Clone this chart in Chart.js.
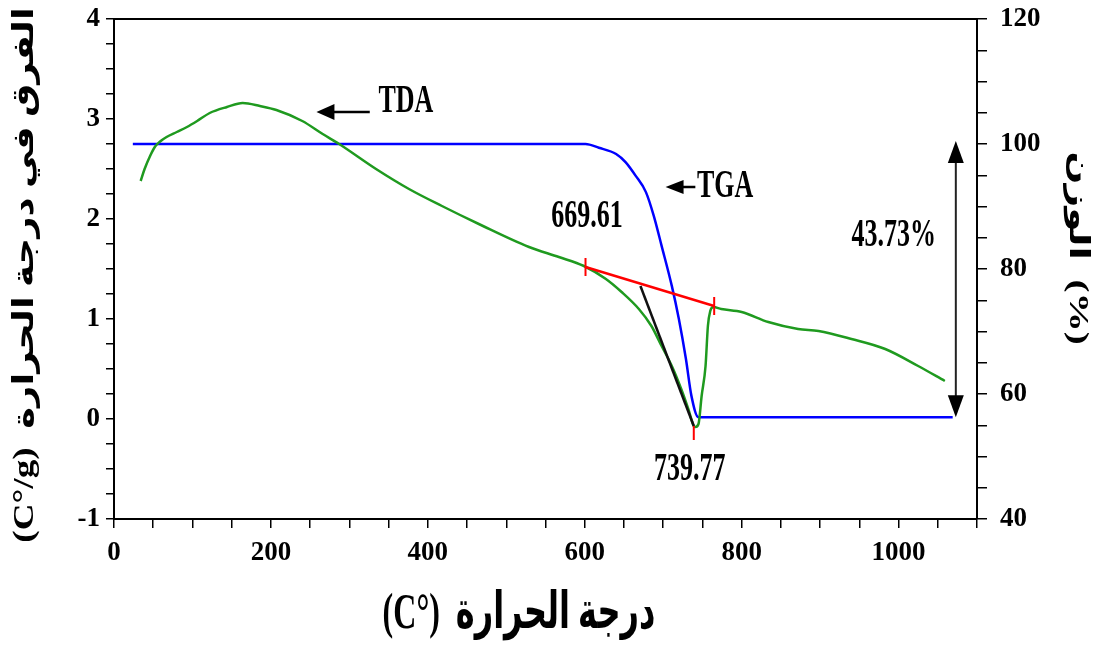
<!DOCTYPE html>
<html><head><meta charset="utf-8">
<script src="https://cdn.jsdelivr.net/npm/chart.js@4.4.0/dist/chart.umd.min.js"></script>
<style>html,body{margin:0;padding:0;background:#fff}#wrap{width:1107px;height:653px}</style>
</head><body><div id="wrap"><canvas id="c" width="1107" height="653"></canvas></div>
<script>
// ---- data ----
const tdaTemp = [34,39,46,52,58,67,80,93,106,122,144,164,186,207,240,266,287,334,376,418,465,529,567,599,627,647,669,685,698,711,723,732,739,741,745,749,754,757,760,764,774,800,834,872,898,940,983,1025,1059];
const tdaVal  = [2.38,2.50,2.63,2.72,2.77,2.82,2.87,2.92,2.98,3.06,3.12,3.16,3.13,3.09,2.98,2.85,2.75,2.50,2.30,2.13,1.95,1.72,1.62,1.53,1.40,1.27,1.10,0.93,0.73,0.53,0.30,0.10,-0.07,-0.08,-0.05,0.23,0.53,0.93,1.08,1.12,1.10,1.07,0.97,0.90,0.88,0.80,0.70,0.53,0.38];
const tgaTemp = [24,601,618,640,652,665,678,688,698,711,720,729,736,745,1069];
const tgaVal  = [100,100,99.4,98.4,97.1,94.9,92.3,88.5,83.7,77.3,72,65.6,59.7,56.27,56.27];
const baseTemp = [601,765];
const baseVal  = [1.52,1.13];
const tanTemp = [671,739];
const tanVal  = [1.33,-0.07];
const peakTemp = [739];
const peakVal  = [-0.14];
const xTickLabels = [0,200,400,600,800,1000];
const leftTickLabels = [-1,0,1,2,3,4];
const rightTickLabels = [40,60,80,100,120];
const onsetLabel = '669.61';
const peakLabel = '739.77';
const lossLabel = '43.73%';
const lossTop = 100, lossBottom = 56.27;
const xTitle = '(C°)  درجة الحرارة';
const yTitle = '(C°/g)  الفرق في درجة الحرارة';
const y2Title = 'الوزن  (%)';

const pts = (xs, ys) => xs.map((x, i) => ({x, y: ys[i]}));
const SERIF = "'Liberation Serif','Times New Roman',serif";
const TITLEF = "'Liberation Serif','DejaVu Sans',serif";
const tickFont = {family: SERIF, size: 27, weight: 'bold'};

const extras = {
  id: 'extras',
  afterDraw(chart) {
    const {ctx, chartArea: a, scales} = chart;
    const x = scales.x, yl = scales.y, yr = scales.y2;
    ctx.save();
    ctx.strokeStyle = '#000'; ctx.lineWidth = 2;
    ctx.beginPath(); ctx.moveTo(a.left, a.top); ctx.lineTo(a.right, a.top); ctx.stroke();

    const text = (s, px, py, sy, font, rot) => {
      ctx.save();
      ctx.translate(px, py); ctx.scale(1, sy); if (rot) ctx.rotate(rot);
      ctx.font = font || ("bold 26px " + SERIF);
      ctx.fillStyle = '#000'; ctx.textAlign = 'center'; ctx.textBaseline = 'middle';
      ctx.fillText(s, 0, 0);
      ctx.restore();
    };
    const hArrow = (x1, x2, py, hw) => {
      ctx.strokeStyle = '#000'; ctx.fillStyle = '#000'; ctx.lineWidth = 2.5;
      const dir = Math.sign(x2 - x1);
      ctx.beginPath(); ctx.moveTo(x1, py); ctx.lineTo(x2 - dir * 14, py); ctx.stroke();
      ctx.beginPath(); ctx.moveTo(x2, py); ctx.lineTo(x2 - dir * 18, py - hw); ctx.lineTo(x2 - dir * 18, py + hw); ctx.closePath(); ctx.fill();
    };
    // axis titles
    text(yTitle, 26, 275, 1.28, "bold 29px " + TITLEF, -Math.PI / 2);
    text(y2Title, 1077, 248, 1.45, "bold 27px " + TITLEF, Math.PI / 2);
    text(xTitle, 519, 615, 1.6, "bold 32px " + TITLEF, 0);
    // TDA label + arrow
    text('TDA', x.getPixelForValue(372), yl.getPixelForValue(3.17), 1.55);
    hArrow(x.getPixelForValue(326), x.getPixelForValue(258), yl.getPixelForValue(3.07), 8);
    // TGA label + arrow
    text('TGA', x.getPixelForValue(779), yl.getPixelForValue(2.32), 1.5);
    hArrow(x.getPixelForValue(741), x.getPixelForValue(703), yl.getPixelForValue(2.32), 7);
    // values
    text(onsetLabel, x.getPixelForValue(603), yl.getPixelForValue(2.02), 1.5);
    text(peakLabel, x.getPixelForValue(734), yl.getPixelForValue(-0.51), 1.5);
    text(lossLabel, x.getPixelForValue(994), yl.getPixelForValue(1.83), 1.5);
    // double arrow for mass loss
    const ax = x.getPixelForValue(1073);
    const t = yr.getPixelForValue(lossTop) - 3, b = yr.getPixelForValue(lossBottom);
    ctx.strokeStyle = '#222'; ctx.fillStyle = '#000'; ctx.lineWidth = 2;
    ctx.beginPath(); ctx.moveTo(ax, t + 15); ctx.lineTo(ax, b - 15); ctx.stroke();
    ctx.beginPath(); ctx.moveTo(ax, t); ctx.lineTo(ax - 8, t + 22); ctx.lineTo(ax + 8, t + 22); ctx.closePath(); ctx.fill();
    ctx.beginPath(); ctx.moveTo(ax, b); ctx.lineTo(ax - 8, b - 22); ctx.lineTo(ax + 8, b - 22); ctx.closePath(); ctx.fill();
    ctx.restore();
  }
};

new Chart(document.getElementById('c'), {
  type: 'line',
  data: {
    datasets: [
      {label: 'baseline', data: pts(baseTemp, baseVal), yAxisID: 'y', borderColor: '#ff0000', borderWidth: 2.5,
       pointStyle: 'line', rotation: 90, pointRadius: 9, pointBorderColor: '#ff0000', pointBorderWidth: 2, order: 1},
      {label: 'tangent', data: pts(tanTemp, tanVal), yAxisID: 'y', borderColor: '#111', borderWidth: 2.5, pointRadius: 0, order: 2},
      {label: 'peak', data: pts(peakTemp, peakVal), yAxisID: 'y', showLine: false, pointStyle: 'line', rotation: 90,
       pointRadius: 7, pointBorderColor: '#ff0000', pointBorderWidth: 2, order: 0},
      {label: 'TDA', data: pts(tdaTemp, tdaVal), yAxisID: 'y', borderColor: '#1f9a1f', borderWidth: 2.5, pointRadius: 0,
       cubicInterpolationMode: 'monotone', order: 3},
      {label: 'TGA', data: pts(tgaTemp, tgaVal), yAxisID: 'y2', borderColor: '#0000ff', borderWidth: 2.5, pointRadius: 0,
       cubicInterpolationMode: 'monotone', order: 4}
    ]
  },
  options: {
    responsive: false, devicePixelRatio: 1, animation: false,
    layout: {padding: {top: 19, left: 0, right: 0, bottom: 0}},
    plugins: {legend: {display: false}, tooltip: {enabled: false}},
    scales: {
      x: {
        type: 'linear', min: 0, max: 1100,
        afterFit: s => { s.height = 134; s.paddingLeft = 0; s.paddingRight = 0; },
        border: {display: true, color: '#000', width: 2},
        grid: {drawOnChartArea: false, drawTicks: true, tickLength: 9, color: '#000', lineWidth: 1.5},
        ticks: {stepSize: 50, autoSkip: false, maxRotation: 0, color: '#000', font: tickFont, padding: 9,
                callback: v => xTickLabels.includes(v) ? String(v) : ''},
        title: {display: false, text: xTitle}
      },
      y: {
        position: 'left', min: -1, max: 4,
        afterFit: s => { s.width = 114; s.paddingTop = 0; s.paddingBottom = 0; },
        border: {display: true, color: '#000', width: 2},
        grid: {drawOnChartArea: false, drawTicks: true, tickLength: 8, color: '#000', lineWidth: 1.5},
        ticks: {stepSize: 0.25, autoSkip: false, color: '#000', font: tickFont, padding: 6,
                callback: v => leftTickLabels.includes(v) ? String(v) : ''},
        title: {display: false, text: yTitle}
      },
      y2: {
        position: 'right', min: 40, max: 120,
        afterFit: s => { s.width = 130; s.paddingTop = 0; s.paddingBottom = 0; },
        border: {display: true, color: '#000', width: 2},
        grid: {drawOnChartArea: false, drawTicks: true, tickLength: 10, color: '#000', lineWidth: 1.5},
        ticks: {stepSize: 5, autoSkip: false, color: '#000', font: tickFont, padding: 13,
                callback: v => rightTickLabels.includes(v) ? String(v) : ''},
        title: {display: false, text: y2Title}
      }
    }
  },
  plugins: [extras]
});
</script></body></html>
